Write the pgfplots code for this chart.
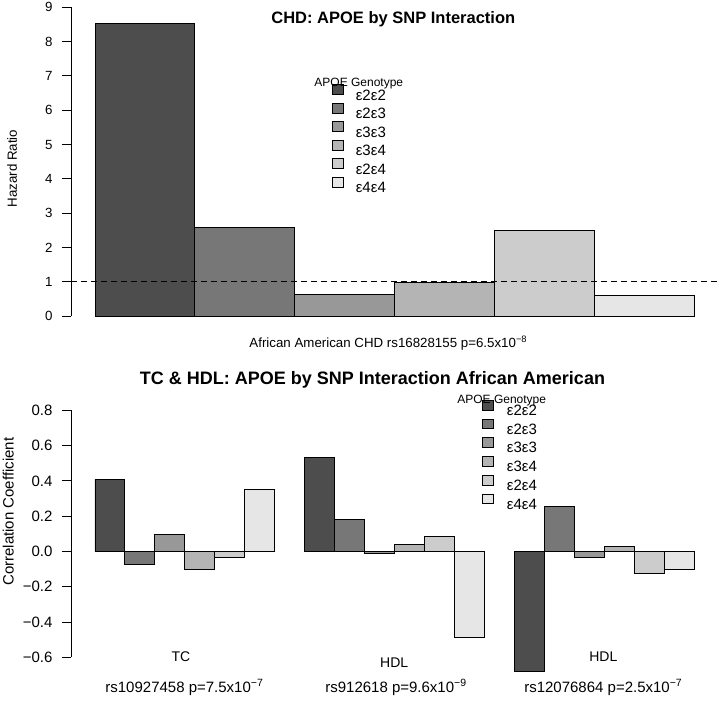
\documentclass[border=0pt]{standalone}
\usepackage{pgfplots}
\pgfplotsset{compat=1.18}
\usepackage{fontspec}
\setmainfont{Liberation Sans}
\definecolor{g1}{HTML}{4D4D4D}
\definecolor{g2}{HTML}{777777}
\definecolor{g3}{HTML}{989898}
\definecolor{g4}{HTML}{B4B4B4}
\definecolor{g5}{HTML}{CCCCCC}
\definecolor{g6}{HTML}{E6E6E6}
\pgfplotsset{
  mybar/.style={ybar, bar width=1, bar shift=0pt, draw=black, line width=0.9bp,
    legend image code/.code={\draw[##1,draw=black,line width=0.8bp] (0bp,0.4bp) rectangle (11bp,10.2bp);}},
}
\newcommand{\fs}[1]{\fontsize{#1bp}{#1bp}\selectfont}
\begin{document}
\begin{tikzpicture}
\path[use as bounding box] (0bp,0bp) rectangle (719bp,-702bp);
% ---------------- top panel ----------------
\begin{axis}[
  at={(71bp,-316bp)}, anchor=south west,
  scale only axis, width=647bp, height=308.7bp,
  xmin=0.76, xmax=7.24, ymin=0, ymax=9,
  axis x line=none, axis y line*=left,
  y axis line style={line width=0.9bp},
  ytick={0,1,2,3,4,5,6,7,8,9},
  tick align=outside, major tick length=9bp,
  every tick/.style={black, line width=0.9bp},
  yticklabel style={font=\fs{13.3}, inner sep=0pt, anchor=east, xshift=-9.3bp},
  /pgf/number format/assume math mode=true,
  clip=false,
  legend cell align=left,
  legend style={draw=none, fill=none, at={(0.4034,0.750)}, anchor=north west,
    inner sep=0pt, outer sep=0pt, row sep=1.9bp, column sep=12bp,
    font=\fs{15}, nodes={inner sep=0pt, text height=11bp, text depth=1bp}},
]
\addplot[mybar, fill=g1] coordinates {(1.5,8.53)};
\addplot[mybar, fill=g2] coordinates {(2.5,2.59)};
\addplot[mybar, fill=g3] coordinates {(3.5,0.63)};
\addplot[mybar, fill=g4] coordinates {(4.5,0.98)};
\addplot[mybar, fill=g5] coordinates {(5.5,2.48)};
\addplot[mybar, fill=g6] coordinates {(6.5,0.59)};
\addplot[black, line width=0.9bp, dash pattern=on 6bp off 4bp, forget plot] coordinates {(0.76,1) (7.24,1)};
\legend{ε2ε2,ε2ε3,ε3ε3,ε3ε4,ε2ε4,ε4ε4}
\end{axis}
% ---------------- bottom panel ----------------
\begin{axis}[
  at={(71bp,-657.3bp)}, anchor=south west,
  scale only axis, width=647bp, height=247bp,
  xmin=0.2, xmax=21.8, ymin=-0.6, ymax=0.8,
  axis x line=none, axis y line*=left,
  y axis line style={line width=0.9bp},
  ytick={-0.6,-0.4,-0.2,0,0.2,0.4,0.6,0.8},
  yticklabels={−0.6,−0.4,−0.2,0.0,0.2,0.4,0.6,0.8},
  tick align=outside, major tick length=9bp,
  every tick/.style={black, line width=0.9bp},
  yticklabel style={font=\fs{15}, inner sep=0pt, anchor=east, xshift=-9.3bp},
  clip=false,
  legend cell align=left,
  legend style={draw=none, fill=none, at={(0.6348,1.0425)}, anchor=north west,
    inner sep=0pt, outer sep=0pt, row sep=2.16bp, column sep=13.4bp,
    font=\fs{15}, nodes={inner sep=0pt, text height=11bp, text depth=1bp}},
]
\addplot[mybar, fill=g1] coordinates {(1.5,0.410) (8.5,0.531) (15.5,-0.682)};
\addplot[mybar, fill=g2] coordinates {(2.5,-0.075) (9.5,0.183) (16.5,0.255)};
\addplot[mybar, fill=g3] coordinates {(3.5,0.096) (10.5,-0.013) (17.5,-0.032)};
\addplot[mybar, fill=g4] coordinates {(4.5,-0.104) (11.5,0.038) (18.5,0.028)};
\addplot[mybar, fill=g5] coordinates {(5.5,-0.032) (12.5,0.085) (19.5,-0.127)};
\addplot[mybar, fill=g6] coordinates {(6.5,0.353) (13.5,-0.489) (20.5,-0.100)};
\legend{ε2ε2,ε2ε3,ε3ε3,ε3ε4,ε2ε4,ε4ε4}
\end{axis}
% ---------------- texts ----------------
\node[anchor=base, font=\fs{16.5}\bfseries] at (393.3bp,-23.3bp) {CHD: APOE by SNP Interaction};
\node[rotate=90, font=\fs{13.3}] at (12.2bp,-168.5bp) {Hazard Ratio};
\node[anchor=base, font=\fs{12}, inner sep=0pt] at (358.8bp,-86.5bp) {APOE Genotype};
\node[anchor=base, font=\fs{13.3}, inner sep=0pt] at (388.3bp,-347.5bp) {African American CHD rs16828155 p=6.5x10\textsuperscript{−8}};
\node[anchor=base, font=\fs{18}\bfseries, inner sep=0pt] at (372.5bp,-384bp) {TC \& HDL: APOE by SNP Interaction African American};
\node[anchor=base, font=\fs{12}, inner sep=0pt] at (501.7bp,-403bp) {APOE Genotype};
\node[rotate=90, font=\fs{15}] at (8.3bp,-511.7bp) {Correlation Coefficient};
\node[anchor=base, font=\fs{14}, inner sep=0pt] at (180.9bp,-661.5bp) {TC};
\node[anchor=base, font=\fs{14}, inner sep=0pt] at (394.2bp,-667.5bp) {HDL};
\node[anchor=base, font=\fs{14}, inner sep=0pt] at (603.3bp,-661.7bp) {HDL};
\node[anchor=base, font=\fs{15}, inner sep=0pt] at (184.4bp,-692bp) {rs10927458 p=7.5x10\textsuperscript{−7}};
\node[anchor=base, font=\fs{15}, inner sep=0pt] at (396bp,-692bp) {rs912618 p=9.6x10\textsuperscript{−9}};
\node[anchor=base, font=\fs{15}, inner sep=0pt] at (603.3bp,-692bp) {rs12076864 p=2.5x10\textsuperscript{−7}};
\end{tikzpicture}
\end{document}
